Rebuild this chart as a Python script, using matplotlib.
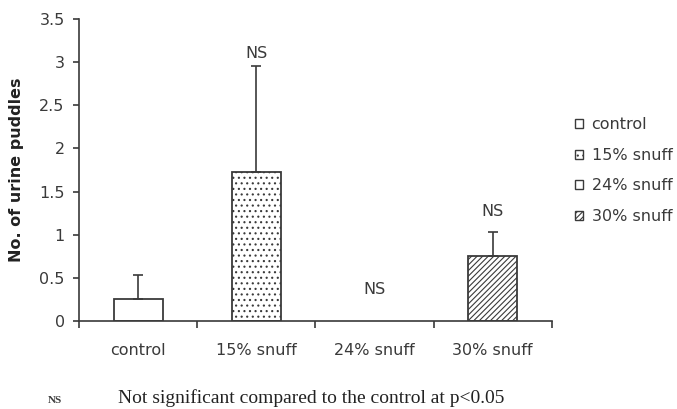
import matplotlib.pyplot as plt
from matplotlib.patches import Patch
import numpy as np

plt.rcParams['font.family'] = ['DejaVu Sans']
plt.rcParams['hatch.linewidth'] = 0.8

# data
groups = ['control', '15% snuff', '24% snuff', '30% snuff']
means = [0.25, 1.73, 0.0, 0.75]
errors = [0.28, 1.22, 0.0, 0.28]
hatches = ['', '...', '', '//////']
ns_labels = ['', 'NS', 'NS', 'NS']
ns_heights = [0, 3.1, 0.36, 1.27]

ink = '#3a3a3a'

fig = plt.figure(figsize=(6.77, 4.09), dpi=100)
ax = fig.add_axes([0.117, 0.215, 0.698, 0.739])

x = np.arange(len(groups))
for i in range(len(groups)):
    if means[i] > 0:
        ax.bar(x[i], means[i], width=0.415, color='white', edgecolor=ink,
               linewidth=1.3, hatch=hatches[i], zorder=2)
        ax.errorbar(x[i], means[i], yerr=[[0], [errors[i]]], fmt='none',
                    ecolor=ink, elinewidth=1.2, capsize=3.3, capthick=1.2, zorder=3)
    if ns_labels[i]:
        ax.text(x[i], ns_heights[i], ns_labels[i], ha='center', va='center',
                fontsize=11.5, color=ink)

ax.set_xlim(-0.5, 3.5)
ax.set_ylim(0, 3.5)
ax.set_yticks(np.arange(0, 3.6, 0.5))
ax.set_yticklabels(['0', '0.5', '1', '1.5', '2', '2.5', '3', '3.5'])
ax.set_xticks(x)
ax.set_xticklabels(groups)
ax.set_xticks(np.arange(-0.5, 3.6, 1), minor=True)
ax.tick_params(axis='x', which='major', length=0, pad=16, labelsize=11.5, colors=ink)
ax.tick_params(axis='x', which='minor', length=5, direction='out', color=ink, width=1.2)
ax.tick_params(axis='y', length=4.5, width=1.2, pad=6, labelsize=11.5, colors=ink)
ax.spines['top'].set_visible(False)
ax.spines['right'].set_visible(False)
for s in ['left', 'bottom']:
    ax.spines[s].set_color(ink)
    ax.spines[s].set_linewidth(1.2)
ax.set_ylabel('No. of urine puddles', fontsize=11.5, fontweight='bold', color='#222222')
ax.yaxis.set_label_coords(-0.116, 0.5)

# legend
handles = [Patch(facecolor='white', edgecolor=ink, hatch=h, label=g)
           for g, h in zip(groups, hatches)]
fig.legend(handles=handles, loc='upper left', bbox_to_anchor=(0.849, 0.713),
           frameon=False, fontsize=11.5, handlelength=0.5, handleheight=0.5,
           handletextpad=0.55, labelspacing=0.97, borderpad=0, borderaxespad=0,
           labelcolor=ink)

# footnote
fig.text(0.071, 0.015, 'NS', fontsize=8, family='Liberation Serif',
         fontweight='bold', color=ink)
fig.text(0.174, 0.015, 'Not significant compared to the control at p<0.05',
         fontsize=14, family='Liberation Serif', color='#222222')

fig.savefig('out.png', dpi=100)
